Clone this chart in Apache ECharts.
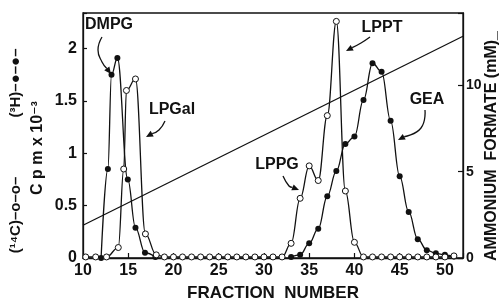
<!DOCTYPE html>
<html>
<head>
<meta charset="utf-8">
<script src="https://cdn.jsdelivr.net/npm/echarts@6/dist/echarts.min.js"></script>
<style>
  html, body { margin: 0; padding: 0; background: #fff; }
  #chart { width: 500px; height: 307px; }
</style>
</head>
<body>
<div id="chart"></div>
<script>
// (3H) filled circles
var dmpgFraction = [12, 12.75, 13.15, 13.8, 14.95, 15.8, 16.85, 18];
var dmpgCpm      = [0, 0.85, 1.75, 1.91, 0.75, 0.29, 0.05, 0.01];
var geaFraction  = [33, 34, 35, 36, 37, 38, 39, 40, 41, 42, 43, 44, 45, 46, 47, 48, 49, 50, 51];
var geaCpm       = [0.01, 0.03, 0.14, 0.28, 0.59, 0.83, 1.09, 1.16, 1.51, 1.86, 1.78, 1.31, 0.78, 0.44, 0.18, 0.075, 0.045, 0.03, 0.015];

// (14C) open circles : LPGal, baseline, LPPG / LPPT, baseline
var c14Fraction = [10.3, 11.4, 12.6, 13.9, 14.5, 14.8, 15.8, 16.9, 18.1,
                   19, 20, 21, 22, 23, 24, 25, 26, 27, 28, 29, 30, 31, 32,
                   33, 34, 35, 36, 37, 38, 39, 40, 41,
                   42, 43, 44, 45, 46, 47, 48, 49, 50, 51];
var c14Cpm      = [0.01, 0.01, 0.01, 0.1, 0.85, 1.6, 1.71, 0.23, 0.03,
                   0.01, 0.01, 0.01, 0.01, 0.01, 0.01, 0.01, 0.01, 0.01, 0.01, 0.01, 0.01, 0.01, 0.01,
                   0.14, 0.57, 0.88, 0.74, 1.36, 2.26, 0.64, 0.15, 0.01,
                   0.01, 0.01, 0.01, 0.01, 0.01, 0.01, 0.01, 0.01, 0.01, 0.02];

// ammonium formate gradient (mM)
var formateFraction = [10, 52];
var formateMM       = [1.9, 12.85];

var xTicks = [10, 15, 20, 25, 30, 35, 40, 45, 50];

function pairs(xs, ys) {
    return xs.map(function (x, i) { return [x, ys[i]]; });
}

var ink = '#111';
var fam = 'Liberation Sans, DejaVu Sans';
var labelFont = { color: ink, fontSize: 16, fontWeight: 'bold', fontFamily: fam };
var bold16 = 'bold 16px "Liberation Sans", "DejaVu Sans"';

function txt(s, x, y, rot, font) {
    return {
        type: 'text', x: x, y: y, rotation: rot || 0,
        style: { text: s, font: font || bold16, fill: ink,
                 align: 'center', verticalAlign: 'middle',
                 textAlign: 'center', textVerticalAlign: 'middle' }
    };
}

// curved pointer with a small head at its last point
function pointer(pts) {
    var a = pts[pts.length - 2], b = pts[pts.length - 1];
    var ang = Math.atan2(b[1] - a[1], b[0] - a[0]);
    var L = 7, W = 3.2;
    var bx = b[0] - L * Math.cos(ang), by = b[1] - L * Math.sin(ang);
    var head = [b,
        [bx + W * Math.sin(ang), by - W * Math.cos(ang)],
        [bx - W * Math.sin(ang), by + W * Math.cos(ang)]];
    return [
        { type: 'polyline', shape: { points: pts.slice(0, -1).concat([[bx, by]]), smooth: 0.5 },
          style: { stroke: ink, lineWidth: 1.3, fill: null } },
        { type: 'polygon', shape: { points: head }, style: { fill: ink } }
    ];
}

var chart = echarts.init(document.getElementById('chart'));

var graphics = [
    txt('DMPG', 109, 25),
    txt('LPGal', 172, 110),
    txt('LPPG', 277, 165),
    txt('LPPT', 382, 28),
    txt('GEA', 427, 100),
    txt('(¹⁴C)–o–o–', 16, 215, Math.PI / 2, 'bold 15px "Liberation Sans", "DejaVu Sans"'),
    txt('(³H)–●–●–', 16, 83, Math.PI / 2, 'bold 15px "Liberation Sans", "DejaVu Sans"'),
    txt('C p m x 10⁻³', 38, 148, Math.PI / 2, 'bold 16px "Liberation Sans", "DejaVu Sans"'),
    txt('AMMONIUM  FORMATE (mM)_', 492, 146, Math.PI / 2, 'bold 16px "Liberation Sans", "DejaVu Sans"')
].concat(
    pointer([[102, 37], [98, 50], [102, 62], [111, 74]]),
    pointer([[165, 121], [159, 130], [146, 137]]),
    pointer([[283, 176], [289, 186], [299, 190]]),
    pointer([[370, 37], [361, 43], [346, 51]]),
    pointer([[425, 110], [421, 128], [398, 140]])
);

var option = {
    animation: false,
    backgroundColor: '#fff',
    grid: { left: 83, right: 37, top: 13, bottom: 44, show: true, borderColor: ink, borderWidth: 1.3 },
    xAxis: {
        type: 'value', min: 10, max: 52, interval: 5,
        axisLine: { lineStyle: { color: ink, width: 1.3 } },
        axisTick: { inside: true, length: 5, lineStyle: { color: ink, width: 1.2 } },
        splitLine: { show: false },
        axisLabel: Object.assign({ margin: 5, formatter: function (v) {
            return xTicks.indexOf(v) >= 0 ? String(v) : '';
        } }, labelFont),
        name: 'FRACTION  NUMBER', nameLocation: 'middle', nameGap: 27,
        nameTextStyle: { color: ink, fontSize: 17, fontWeight: 'bold', fontFamily: fam }
    },
    yAxis: [{
        type: 'value', min: 0, max: 2.34, interval: 0.5,
        axisLine: { show: true, lineStyle: { color: ink, width: 1.3 } },
        axisTick: { show: true, inside: true, length: 4, lineStyle: { color: ink, width: 1.2 } },
        splitLine: { show: false },
        axisLabel: Object.assign({ margin: 6, formatter: function (v) {
            return Math.abs(v * 2 - Math.round(v * 2)) < 1e-6 ? String(v) : '';
        } }, labelFont)
    }, {
        type: 'value', position: 'right', min: 0, max: 14.2, interval: 5,
        axisLine: { show: true, lineStyle: { color: ink, width: 1.3 } },
        axisTick: { show: true, inside: true, length: 5, lineStyle: { color: ink, width: 1.2 } },
        splitLine: { show: false },
        axisLabel: { margin: 3, color: ink, fontSize: 14, fontWeight: 'bold', fontFamily: fam,
            formatter: function (v) { return v % 5 === 0 ? String(v) : ''; } }
    }],
    series: [{
        name: 'formate', type: 'line', yAxisIndex: 1,
        data: pairs(formateFraction, formateMM), symbol: 'none',
        lineStyle: { color: ink, width: 1.3 }
    }, {
        name: 'DMPG', type: 'line', smooth: 0.4, smoothMonotone: 'x',
        data: pairs(dmpgFraction, dmpgCpm), symbol: 'circle', symbolSize: 6,
        itemStyle: { color: ink }, lineStyle: { color: ink, width: 1.3 }
    }, {
        name: 'GEA', type: 'line', smooth: 0.4, smoothMonotone: 'x',
        data: pairs(geaFraction, geaCpm), symbol: 'circle', symbolSize: 6,
        itemStyle: { color: ink }, lineStyle: { color: ink, width: 1.3 }
    }, {
        name: '14C', type: 'line', smooth: 0.4, smoothMonotone: 'x',
        data: pairs(c14Fraction, c14Cpm), symbol: 'circle', symbolSize: 6,
        itemStyle: { color: '#fff', borderColor: ink, borderWidth: 1 },
        lineStyle: { color: ink, width: 1.3 }
    }],
    graphic: graphics
};

chart.setOption(option);
</script>
</body>
</html>
